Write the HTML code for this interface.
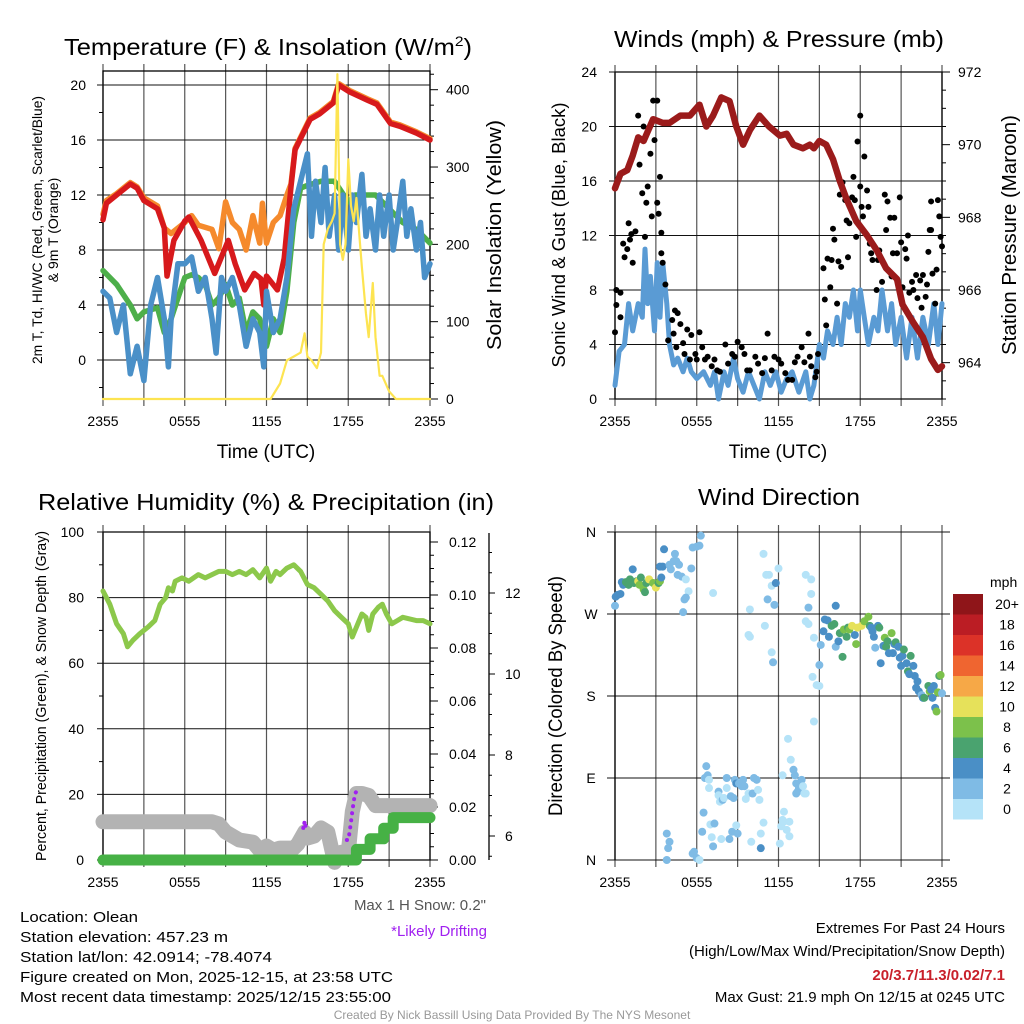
<!DOCTYPE html>
<html><head><meta charset="utf-8"><title>Olean Mesonet Meteogram</title>
<style>
html,body{margin:0;padding:0;background:#fff;}
svg{display:block;font-family:"Liberation Sans",Arial,sans-serif;}
</style></head>
<body>
<svg id="fig" width="1024" height="1024" viewBox="0 0 1024 1024" xmlns="http://www.w3.org/2000/svg">
<rect width="1024" height="1024" fill="#fff"/>
<text x="64" y="55" font-size="23" textLength="408" lengthAdjust="spacingAndGlyphs">Temperature (F) &amp; Insolation (W/m<tspan font-size="14" dy="-9">2</tspan><tspan dy="9">)</tspan></text>
<text x="614" y="47" font-size="23" textLength="330" lengthAdjust="spacingAndGlyphs">Winds (mph) &amp; Pressure (mb)</text>
<text x="38" y="510" font-size="23" textLength="456" lengthAdjust="spacingAndGlyphs">Relative Humidity (%) &amp; Precipitation (in)</text>
<text x="698" y="505" font-size="23" textLength="162" lengthAdjust="spacingAndGlyphs">Wind Direction</text>
<g id="p1"></g>
<g id="p2"></g>
<g id="p3"></g>
<g id="p4"></g>
<g font-size="15">
<text x="20" y="922" textLength="118" lengthAdjust="spacingAndGlyphs">Location: Olean</text>
<text x="20" y="942" textLength="208" lengthAdjust="spacingAndGlyphs">Station elevation: 457.23 m</text>
<text x="20" y="962" textLength="252" lengthAdjust="spacingAndGlyphs">Station lat/lon: 42.0914; -78.4074</text>
<text x="20" y="982" textLength="373" lengthAdjust="spacingAndGlyphs">Figure created on Mon, 2025-12-15, at 23:58 UTC</text>
<text x="20" y="1002" textLength="371" lengthAdjust="spacingAndGlyphs">Most recent data timestamp: 2025/12/15 23:55:00</text>
</g>
<text x="486" y="910" font-size="15" fill="#555" text-anchor="end">Max 1 H Snow: 0.2"</text>
<text x="487" y="936" font-size="15" fill="#a020f0" text-anchor="end">*Likely Drifting</text>
<g font-size="15" text-anchor="end">
<text x="1005" y="933">Extremes For Past 24 Hours</text>
<text x="1005" y="956">(High/Low/Max Wind/Precipitation/Snow Depth)</text>
<text x="1005" y="980" fill="#c8202a" font-weight="bold">20/3.7/11.3/0.02/7.1</text>
<text x="1005" y="1002">Max Gust: 21.9 mph On 12/15 at 0245 UTC</text>
</g>
<text x="512" y="1019" font-size="12" fill="#999" text-anchor="middle">Created By Nick Bassill Using Data Provided By The NYS Mesonet</text>
</svg>
<script>
// ---------- DATA ----------
const tempH  = [0,0.25,1,2,2.5,3,4,4.5,4.7,5.2,6,6.3,7.2,8.2,9.2,9.7,10.4,11.1,11.6,11.8,12,12.8,13.3,13.8,14.1,15.2,15.9,16.9,17.3,18.1,19.4,20.1,21.1,21.8,23,24];
const tempF  = [10.2,11.4,12,12.8,12.5,11.6,11,9.6,6.1,8.7,10.1,10.4,8.7,6.3,8.7,7.0,5.1,6.3,5.9,4.0,6.1,5.1,7.4,12.6,15.3,17.5,17.9,18.7,20,19.5,18.9,18.6,17.2,17,16.5,16];
const orangeH = [0,0.25,1,2,2.5,3,4,4.5,5,6,6.5,7,8,8.5,9,9.5,10,10.5,11,11.5,11.7,12,12.5,13,13.5,13.8,14.1,15.2,15.9,16.9,17.3,18.1,19.4,20.1,21.1,21.8,23,24];
const orangeF = [10.6,11.6,12.1,12.9,12.6,11.8,11.2,9.6,9.2,10,10.5,9.8,9.5,8.1,11.5,10,9.5,8,10.5,8.5,11.4,8.5,10,10.5,12,12.8,15.4,17.6,18,18.8,20.1,19.6,19,18.7,17.3,17.1,16.6,16.1];
const dewH = [0,1,2,2.5,3,4,4.5,5,5.5,6,6.5,7,7.5,8,8.5,9,9.5,10,10.5,11,11.5,12,12.5,13,13.5,14,14.5,15,16,17,18,18.5,19,20,21,22,23,24];
const dewF = [6.5,5.5,4,3,3.5,3.8,2,3,4.5,6,6.2,6,5.5,4,4.5,5.5,4,4.5,2,3.5,3,1,3,2,5,10,12.5,12.7,13,13,11.5,12,12,12,11,10,9.5,8.5];
const wcH = [0,0.5,1,1.5,2,2.5,3,3.5,4,4.5,4.8,5,5.5,6,6.5,7,7.5,8,8.3,8.7,9,9.5,10,10.5,11,11.5,11.8,12,12.5,13,13.5,14,14.5,15,15.3,15.6,16,16.3,16.6,17,17.3,17.6,18,18.3,18.6,19,19.3,19.6,20,20.3,20.6,21,21.3,21.6,22,22.3,22.6,23,23.3,23.6,24];
const wcF = [5,4.5,2,4,-1,1,-1.5,4,6,3,-0.5,3,7,7,7.5,5,6,3,0.5,6,5,6,4,1,3,2,-0.5,5,2,3,6,11,13,15,9,13,10,14,9,12,8,12,8,12,10,13.5,9,11,8,12,9,12,8,10,13,9,11,8,10,6,7];
const solH = [0,12.3,13,13.5,14,14.5,14.8,15,15.3,15.7,16,16.2,16.5,16.8,17,17.2,17.4,17.6,17.8,18,18.2,18.4,18.6,19,19.3,19.5,19.8,20,20.3,20.5,21,21.5,24];
const solW = [0,0,20,50,55,60,85,55,50,40,60,200,220,230,240,420,200,180,200,310,250,230,260,170,110,80,150,80,30,30,10,0,0];
const tempTicks = [0,4,8,12,16,20];
const solTicks = [0,100,200,300,400];
const timeLabels = ["2355","0555","1155","1755","2355"];

const windH = [0,0.3,0.7,1,1.3,1.7,2,2.2,2.4,2.6,2.9,3.1,3.3,3.5,3.8,4,4.3,4.6,5,5.3,5.6,6,6.5,7,7.3,7.6,8,8.3,8.7,9,9.4,9.8,10.2,10.6,11,11.4,11.8,12.2,12.6,13,13.5,14,14.3,14.6,15,15.3,15.6,16,16.3,16.6,16.9,17.2,17.5,17.8,18,18.3,18.6,19,19.3,19.6,20,20.3,20.6,21,21.4,21.8,22.2,22.6,23,23.4,23.7,24];
const windV = [1,3.5,4,7,5,7,6,11,7,9,5,10,6,10,7,4,2.5,3,2,3,2,1.5,2,1,2,0,2,1,3,1.5,0.5,2,1,0,2,1,2,0.5,1.5,2,0.5,2,0,1,4,3,5,4,6,4,7,6,8,5,8,6,4,6,5,8,5,7,4,6,3,6,3,6,4,7,4,7];
const presH = [0,0.4,0.9,1.3,1.7,2.1,2.8,3.5,4,4.8,5.5,6.2,6.7,7.2,7.8,8.4,8.9,9.4,9.9,10.6,11.3,12.1,12.6,13.1,13.8,14.3,14.6,15,15.5,16,16.5,17,17.7,18.5,19.2,19.9,20.7,21.1,21.9,22.6,23.2,23.7,24];
const presMb = [968.8,969.2,969.3,969.7,970.2,970.1,970.7,970.6,970.6,970.8,970.8,971.1,970.5,970.8,971.3,971.2,970.5,970.0,970.4,970.8,970.5,970.25,970.3,970.0,969.9,970.0,969.9,970.1,970.0,969.6,969.0,968.5,967.9,967.5,967.1,966.6,966.3,965.6,965.1,964.7,964.1,963.8,963.9];
const gustH = [0,0.1,0.1,0.4,0.4,0.6,0.7,0.9,1,1.1,1.2,1.3,1.5,1.7,1.8,2,2.1,2.2,2.3,2.4,2.6,2.7,2.8,2.9,3.1,3.1,3.2,3.3,3.4,3.4,3.5,3.7,3.9,4.2,4.3,4.4,4.5,4.6,4.8,5,5.1,5.3,5.5,5.6,5.9,6,6.2,6.4,6.6,6.8,7.1,7.3,7.5,7.7,8.1,8.3,8.6,8.8,9,9.3,9.5,9.7,9.9,10.3,10.5,10.8,11,11.2,11.5,11.7,12,12.2,12.5,12.7,13,13.2,13.4,13.7,13.9,14.2,14.3,14.4,14.7,14.8,14.9,15.3,15.4,15.5,15.6,15.8,15.9,16,16.1,16.3,16.4,16.5,16.6,16.7,16.9,17,17.1,17.2,17.4,17.5,17.6,17.7,17.8,18,18,18.1,18.2,18.3,18.5,18.6,18.7,18.8,18.9,19.2,19.3,19.4,19.6,19.8,19.9,20,20.2,20.3,20.4,20.5,20.7,20.9,21,21.1,21.3,21.4,21.5,21.6,21.8,21.9,22.1,22.2,22.4,22.5,22.6,22.8,22.9,23,23.1,23.2,23.2,23.3,23.5,23.6,23.7,23.8,23.9,24];
const gustV = [4.9,6.9,8,7.8,6,11.4,10.4,11,12.9,11.7,12.1,10,12.3,20.8,17.2,15.1,20,11.9,14.4,15.6,18,13.4,21.9,19,21.9,14.4,13.6,16.3,10.7,12.2,10,8.4,4.3,5.8,4.8,6.5,3.8,6.3,5.5,4.1,3.3,5.1,2.9,4.7,3.3,2.9,4.9,3.8,2.9,3.1,2.4,2.9,2.1,2,4,2.6,3.3,3.1,4.2,3.8,3.3,2.1,2.1,3.1,2.6,1.9,3,4.8,2.1,3.1,2.9,2.6,1.9,1.4,1.4,2.7,3.1,3.8,2.7,4.8,3.1,2.4,1.6,2,3.3,9.6,7.3,5.4,10.3,8.2,10.2,12.5,11.7,7,10.1,15,9.7,15.9,14.6,13.1,10.4,12.9,14.8,16.3,14.6,11.9,18.9,15.6,20.8,14.1,13.4,17.8,15.3,14.1,11.4,10.7,10.2,8,10.2,10.9,8.6,15,12.4,14.5,13.3,9,10.7,13.3,10.7,14.8,11.5,8.2,11,10.3,12,7.8,8.6,8,9.1,7.4,8.7,6.7,9.1,7.5,8.4,10.8,12.4,14.5,12.4,9.2,7,9.5,14.6,13.4,11.9,11.2];
const windTicks = [0,4,8,12,16,20,24];
const presTicks = [964,966,968,970,972];

const rhH = [0,0.5,1,1.5,1.8,2.2,2.7,3.3,3.8,4.2,4.6,4.8,5.1,5.3,5.8,6.3,7,7.5,8,8.5,9,9.5,10,10.5,11,11.5,12,12.3,12.7,13,13.5,14,14.5,15,15.5,16,16.5,17,17.5,18,18.3,18.7,19,19.3,19.5,19.8,20.2,20.5,20.8,21.2,21.6,22,22.5,23,23.5,24];
const rhV = [82,78,72,69,65,67,69,71,73,78,80,83,82,85,86,85,87,86,87,88,88,87,88,87,88.5,86,89,85,88,87,89,90,88,84,83,81,79,76,74,72,68,72,75,74,70,75,77,78,75,72,73,74,73.5,73,73,72];
const snowH = [0,8,8.5,9,9.5,10,11,11.5,12,12.5,13,14,14.3,14.8,15,15.5,16,16.5,17,17.5,18,18.3,18.6,19,19.5,20,21,24];
const snowIn = [6.35,6.35,6.3,6.1,6.0,5.9,5.85,5.65,5.75,5.65,5.7,5.7,5.8,6.1,5.95,6.0,6.2,6.1,5.35,5.6,5.6,6.6,7.05,7.05,7.0,6.75,6.75,6.75];
const precipH = [0,18.6,18.6,19.6,19.6,20.6,20.6,21.3,21.3,24];
const precipIn = [0,0,0.004,0.004,0.008,0.008,0.012,0.012,0.016,0.016];
const drift1H = [14.7,14.8,14.9,15.0];
const drift1In = [6.2,6.35,6.2,6.2];
const drift2H = [17.9,18.0,18.1,18.2,18.3,18.4,18.5,18.6,18.8,19.0];
const drift2In = [5.9,5.9,6.1,6.35,6.6,6.85,7.05,7.1,7.1,7.1];
const rhTicks = [0,20,40,60,80,100];
const precipTicks = ["0.00","0.02","0.04","0.06","0.08","0.10","0.12"];
const snowTicks = [6,8,10,12];

const dirH = [0,0.05,0.2,0.4,0.5,0.6,0.8,1,1.1,1.3,1.4,1.6,1.7,1.8,1.9,2.1,2.2,2.3,2.5,2.8,3,3.2,3.3,3.4,3.3,3.5,3.6,4,4.1,4.4,4.5,4.3,4.7,4.6,4.9,5.2,5.4,5.1,5.2,5,5.6,5.7,6,6.2,6.3,7.2,
9.9,9.8,9.9,11,10.9,11.1,11.3,11.5,11.8,12,11.2,11.7,11.5,11.6,14,14.4,14.4,14.2,14,14.2,14.6,14.5,14.8,15,14.6,
15,15.1,15.3,15.4,15.6,15.7,15.9,16.1,16.2,16.2,16.4,16.5,16.7,16.8,17,17.1,17.2,17.4,17.6,17.7,17.8,18.1,18.3,18.6,18.7,18.8,18.9,19,19.1,19.3,19.4,19.5,19.7,19.8,19.9,20,20.1,20.3,20.4,20.5,20.6,20.8,20.9,21,21.1,21.2,21.4,21.5,21.6,21.7,21.9,22,22.1,22.2,22.3,22.5,22.6,22.7,23,23.1,23.2,23.3,23.4,23.5,23.6,23.7,23.8,23.9,24,
3.8,4,3.9,3.8,5.7,5.8,6,6.2,6.4,6.5,6.7,6.6,6.8,6.9,6.9,7,7.3,7.1,7.2,7.6,7.6,7.7,7.8,7.9,8,8.2,8.2,8.4,8.5,8.6,8.7,8.8,8.9,8.9,9,9.1,9.3,9.4,9.5,9.6,9.8,10,10.1,10.2,10.4,10.5,10.6,10.7,10.9,10.7,12.1,12.2,12.3,12.4,12.4,12.3,12.6,12.7,12.8,12.8,12.9,13.1,13.2,13.3,13.3,13.4,13.5,13.7,13.8,13.9,14];
const dirDeg = [279,289,291,292,305,302,305,302,308,319,304,306,306,302,310,297,294,304,308,304,299,304,306,310,322,322,341,324,319,336,328,328,324,313,311,308,295,286,288,272,320,343,344,345,356,293,
275,247,245,257,336,313,313,301,304,320,286,280,228,217,313,308,292,277,262,259,244,201,192,191,152,
214,236,251,264,263,245,257,259,279,234,240,249,223,253,245,255,253,257,247,237,255,257,262,267,257,255,251,245,233,257,255,216,235,244,234,240,227,249,227,237,239,234,222,213,224,231,216,207,204,224,213,202,189,196,185,181,178,178,191,185,187,178,191,167,163,184,202,203,183,
29,20,13,0,7,9,2,0,31,52,103,90,93,88,79,39,40,25,15,75,71,64,23,66,68,90,79,23,70,31,68,88,84,38,29,84,81,88,81,67,73,20,73,90,88,77,66,29,41,13,18,37,44,42,53,93,33,133,42,26,110,99,93,84,73,75,79,88,81,73,73];
const dirSpd = [3,5,5,5,5,5,7,7,7,5,7,7,11,9,7,9,7,7,11,9,11,7,9,5,5,5,5,3,3,3,3,3,3,3,3,1,1,3,3,3,3,3,3,3,3,1,
1,1,1,1,1,1,1,1,5,1,3,3,1,3,1,1,1,3,1,1,1,1,1,1,1,
3,3,5,5,5,5,7,7,5,3,5,7,7,9,7,7,9,11,5,9,11,11,9,9,7,5,5,5,3,5,7,5,5,9,7,7,5,9,5,5,7,5,5,5,5,7,5,7,5,7,5,5,5,5,5,3,5,7,7,9,5,5,5,5,9,9,7,9,
3,3,3,3,3,3,3,3,1,3,3,3,3,3,1,1,1,3,1,3,3,1,1,1,3,1,3,1,3,3,3,3,3,5,1,3,3,3,3,3,1,1,1,3,3,3,1,1,1,1,5,1,1,1,1,1,1,1,1,1,1,1,3,3,3,3,3,3,3,1,1,1];
const dirLabels = ["N","E","S","W","N"];
const speedBins = ["0","2","4","6","8","10","12","14","16","18","20+"];
const binColors = ["#b5e3f8","#7fbbe5","#4a8fc6","#4aa36f","#7cc14b","#e6e15a","#f6a847","#ef6530","#dc3228","#bb1d24","#8f1519"];

// ---------- HELPERS ----------
const NS = "http://www.w3.org/2000/svg";
function mk(parent, tag, attrs){ const e=document.createElementNS(NS,tag); for(const k in attrs) e.setAttribute(k,attrs[k]); parent.appendChild(e); return e; }
function linear(d0,d1,r0,r1){ return v => r0 + (v-d0)*(r1-r0)/(d1-d0); }
function pathFrom(xs,ys,fx,fy){ return xs.map((h,i)=>(i?"L":"M")+fx(h).toFixed(1)+","+fy(ys[i]).toFixed(1)).join(""); }
function frame(g, L, R, T, B, fx, name){
  for(let h=0;h<=24;h+=3){
    const gl = mk(g,"line",{x1:fx(h),x2:fx(h),y1:T-7,y2:B+7,stroke:"#555","stroke-width":1.2});
    
    
  }
  const br = mk(g,"rect",{x:L,y:T,width:R-L,height:B-T,fill:"none",stroke:"#000","stroke-width":1.3});
  
  
  timeLabels.forEach((t,i)=>{
    const tx = mk(g,"text",{x:fx(i*6),y:B+27,"font-size":14,"text-anchor":"middle"}); tx.textContent=t;
    
    
  });
}
function hgrid(g, L, R, y, label, lx, anchor, name){
  const l = mk(g,"line",{x1:L-6,x2:R,y1:y,y2:y,stroke:"#111","stroke-width":1});
  
  
  const t = mk(g,"text",{x:lx,y:y+5,"font-size":14,"text-anchor":anchor}); t.textContent=label;
  
  
}
function rtick(g, x, y, len, label, lx, name){
  const l = mk(g,"line",{x1:x,x2:x+len,y1:y,y2:y,stroke:"#000","stroke-width":1});
  
  
  if(label!==null){
    const t = mk(g,"text",{x:lx,y:y+5,"font-size":14}); t.textContent=label;
    
    
  }
}
function rotText(g, x, y, txt, size, name, len){
  const t = mk(g,"text",{x:0,y:0,"font-size":size,"text-anchor":"middle",transform:`translate(${x},${y}) rotate(-90)`});
  if(len){ t.setAttribute("textLength",len); t.setAttribute("lengthAdjust","spacingAndGlyphs"); }
  t.textContent = txt;
  
  
  return t;
}
function addPath(g, d, stroke, w, name, extra){
  const p = mk(g,"path",Object.assign({d:d,fill:"none",stroke:stroke,"stroke-width":w,"stroke-linejoin":"round","stroke-linecap":"round"},extra||{}));
  
  
  return p;
}

// ---------- PANEL 1 ----------
(function(){
  const g=document.getElementById("p1");
  const L=103,R=430,T=71,B=399;
  const fx=linear(0,24,L,R), fy=linear(0,20,360,85), fs=linear(0,400,399,89.7);
  frame(g,L,R,T,B,fx,"temperature");
  tempTicks.forEach(v=>hgrid(g,L,R,fy(v),String(v),86,"end","temp-tick-label"));
  for(let v=-2;v<=20;v+=2){ if(v%4){ const m=mk(g,"line",{x1:L-4,x2:L,y1:fy(v),y2:fy(v),stroke:"#000"});   } }
  solTicks.forEach(v=>rtick(g,R,fs(v),8,String(v),446,"solar-tick-label"));
  for(let v=20;v<=420;v+=20){ if(v%100) rtick(g,R,fs(v),4,null,0,""); }
  addPath(g,pathFrom(dewH,dewF,fx,fy),"#4daf4a",5.5,"dewpoint-line");
  addPath(g,pathFrom(orangeH,orangeF,fx,fy),"#f58a2c",5.5,"9m-temperature-line");
  addPath(g,pathFrom(tempH,tempF,fx,fy),"#d7191c",5.5,"2m-temperature-line");
  addPath(g,pathFrom(wcH,wcF,fx,fy),"#4a90c8",5.5,"wind-chill-line");
  addPath(g,pathFrom(solH,solW,fx,fs),"#fde451",2.2,"solar-insolation-line");
  rotText(g,42,230,"2m T, Td, HI/WC (Red, Green, Scarlet/Blue)",14,"temperature-axis-title",268);
  rotText(g,58,230,"& 9m T (Orange)",14,"temperature-axis-title-line2");
  rotText(g,501,235,"Solar Insolation (Yellow)",20,"solar-axis-title",230);
  const xt=mk(g,"text",{x:266,y:458,"font-size":19,"text-anchor":"middle"}); xt.textContent="Time (UTC)";
   
})();

// ---------- PANEL 2 ----------
(function(){
  const g=document.getElementById("p2");
  const L=615,R=942,T=72,B=399;
  const fx=linear(0,24,L,R), fy=linear(0,24,B,T), fp=linear(963,972,399,72);
  frame(g,L,R,T,B,fx,"winds");
  windTicks.forEach(v=>hgrid(g,L,R,fy(v),String(v),597,"end","wind-tick-label"));
  presTicks.forEach(v=>rtick(g,R,fp(v),8,String(v),958,"pressure-tick-label"));
  for(let v=963;v<=972;v+=0.5){ if(v%2) rtick(g,R,fp(v),4,null,0,""); }
  addPath(g,pathFrom(windH,windV,fx,fy),"#5a9bd4",5,"sonic-wind-line");
  gustH.forEach((h,i)=>{
    const c=mk(g,"circle",{cx:fx(h),cy:fy(gustV[i]),r:3,fill:"#000"});
    
    
  });
  addPath(g,pathFrom(presH,presMb,fx,fp),"#9b1b1b",6.5,"pressure-line");
  rotText(g,565,235,"Sonic Wind & Gust (Blue, Black)",18,"wind-axis-title",265);
  rotText(g,1016,235,"Station Pressure (Maroon)",20,"pressure-axis-title",240);
  const xt=mk(g,"text",{x:778,y:458,"font-size":19,"text-anchor":"middle"}); xt.textContent="Time (UTC)";
   
})();

// ---------- PANEL 3 ----------
(function(){
  const g=document.getElementById("p3");
  const L=103,R=430,T=532,B=860;
  const fx=linear(0,24,L,R), fy=linear(0,100,B,T), fp=linear(0,0.12,860,542), fsn=linear(6,12,836,593);
  frame(g,L,R,T,B,fx,"humidity");
  rhTicks.forEach(v=>hgrid(g,L,R,fy(v),String(v),84,"end","rh-tick-label"));
  for(let v=10;v<100;v+=20){ const m=mk(g,"line",{x1:L-4,x2:L,y1:fy(v),y2:fy(v),stroke:"#000"});   }
  precipTicks.forEach(v=>rtick(g,R,fp(parseFloat(v)),8,v,449,"precip-tick-label"));
  for(let v=0.005;v<0.125;v+=0.005){ if(Math.abs((v*100)%2)>0.1) rtick(g,R,fp(v),4,null,0,""); }
  const ax=mk(g,"line",{x1:489,x2:489,y1:533,y2:860,stroke:"#000","stroke-width":1.3});
   
  snowTicks.forEach(v=>rtick(g,489,fsn(v),6,String(v),505,"snow-tick-label"));
  for(let v=5.5;v<=13;v+=0.5){ if(v%2) rtick(g,489,fsn(v),3,null,0,""); }
  addPath(g,pathFrom(snowH,snowIn,fx,fsn),"#b3b3b3",15,"snow-depth-line");
  addPath(g,pathFrom(precipH,precipIn,fx,fp),"#46b145",11,"precipitation-line");
  addPath(g,pathFrom(drift1H,drift1In,fx,fsn),"#a020f0",4,"drifting-marker",{"stroke-dasharray":"0.1 5"});
  addPath(g,pathFrom(drift2H,drift2In,fx,fsn),"#a020f0",4,"drifting-marker",{"stroke-dasharray":"0.1 7"});
  addPath(g,pathFrom(rhH,rhV,fx,fy),"#8cc84b",5,"relative-humidity-line");
  rotText(g,46,696,"Percent, Precipitation (Green), & Snow Depth (Gray)",15,"humidity-axis-title",330);
})();

// ---------- PANEL 4 ----------
(function(){
  const g=document.getElementById("p4");
  const L=615,R=942,T=532,B=860;
  const fx=linear(0,24,L,R), fy=linear(0,360,B,T);
  for(let h=0;h<=24;h+=3){
    const gl=mk(g,"line",{x1:fx(h),x2:fx(h),y1:T-7,y2:B+7,stroke:"#555","stroke-width":1.2});
     
  }
  dirLabels.forEach((lab,i)=>{
    const y=fy(i*90);
    const l=mk(g,"line",{x1:607,x2:950,y1:y,y2:y,stroke:"#111"});
     
    const t=mk(g,"text",{x:591,y:y+5,"font-size":14,"text-anchor":"middle"}); t.textContent=lab;
     
  });
  const lb=mk(g,"line",{x1:L,x2:L,y1:T,y2:B,stroke:"#000","stroke-width":1.3});
   
  timeLabels.forEach((t,i)=>{
    const tx=mk(g,"text",{x:fx(i*6),y:B+27,"font-size":14,"text-anchor":"middle"}); tx.textContent=t;
     
  });
  dirH.forEach((h,i)=>{
    const s = dirSpd[i]===undefined ? 1 : dirSpd[i];
    const b=Math.min(10,Math.floor(s/2));
    const c=mk(g,"circle",{cx:fx(h),cy:fy(dirDeg[i]),r:4,fill:binColors[b]});
    
    
  });
  rotText(g,562,696,"Direction (Colored By Speed)",19,"direction-axis-title",240);
  const u=mk(g,"text",{x:990,y:587,"font-size":14}); u.textContent="mph";
   
  speedBins.forEach((lab,i)=>{
    const y=799-i*20.5;
    const r=mk(g,"rect",{x:953,y:y,width:30,height:20.5,fill:binColors[i]});
     
    const t=mk(g,"text",{x:1007,y:y+15,"font-size":14,"text-anchor":"middle"}); t.textContent=lab;
     
  });
})();
</script>
</body></html>
